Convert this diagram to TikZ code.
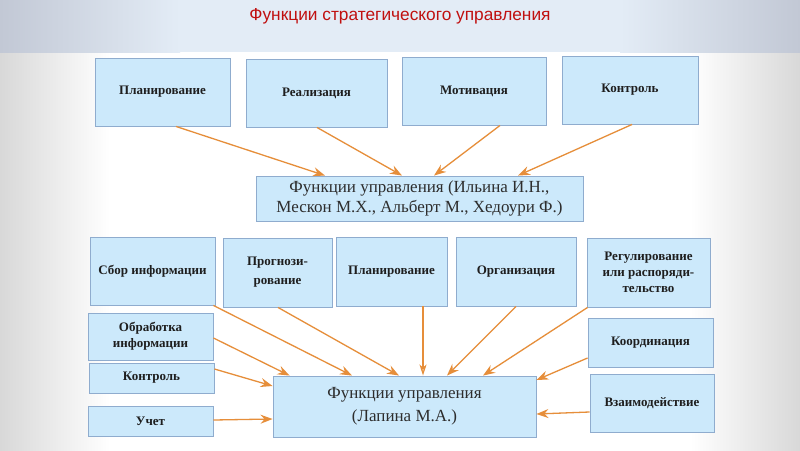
\documentclass[tikz,border=0pt]{standalone}
\usepackage{fontspec}
\setmainfont{Liberation Serif}
\newfontfamily\titlefont{Liberation Sans}
\usetikzlibrary{arrows.meta,calc}
\definecolor{bandc}{RGB}{227,236,246}
\definecolor{bandedge}{RGB}{194,200,213}
\definecolor{lowedge}{RGB}{216,216,216}
\definecolor{boxfill}{RGB}{204,233,251}
\definecolor{boxline}{RGB}{143,172,206}
\definecolor{arr}{RGB}{230,142,58}
\definecolor{titlered}{RGB}{192,16,16}
\definecolor{txt}{RGB}{30,30,30}
\tikzset{
  fbox/.style={draw=boxline, fill=boxfill, line width=0.9pt, inner sep=0pt,
    align=center, text=txt, font=\fontsize{13}{16}\selectfont\bfseries},
  bigbox/.style={fbox, font=\fontsize{17}{20}\selectfont, text={rgb,255:red,45;green,45;blue,45}},
  conn/.style={draw=arr, line width=1.3pt, -{Stealth[length=12pt,width=9pt,inset=4pt]}},
  connopen/.style={draw=arr, line width=1.3pt, -{Stealth[open,length=11pt,width=7pt,inset=3pt]}}
}
\begin{document}
\begin{tikzpicture}[x=1pt,y=-1pt]
\useasboundingbox (0,0) rectangle (800,450);
% background
\fill[white] (0,0) rectangle (800,450);
\shade[left color=lowedge, right color=white] (0,52) rectangle (110,450);
\shade[left color=white, right color=lowedge] (690,52) rectangle (800,450);
\fill[bandc] (0,0) rectangle (800,52);
\shade[left color=bandedge, right color=bandc] (0,0) rectangle (180,52);
\shade[left color=bandc, right color=bandedge] (620,0) rectangle (800,52);
\node[font=\titlefont\fontsize{17.3}{20}\selectfont, text=titlered] (title) at (400,16) {Функции стратегического управления};
% top row
\node[fbox, minimum width=135, minimum height=68] (p1) at (162.5,92) {Планирование};
\node[fbox, minimum width=141, minimum height=68] (p2) at (316.5,93) {Реализация};
\node[fbox, minimum width=144, minimum height=68] (p3) at (474,91) {Мотивация};
\node[fbox, minimum width=136, minimum height=68] (p4) at (630,90) {Контроль};
\node[bigbox, minimum width=327, minimum height=45] (m) at (419.5,198.5) {Функции управления (Ильина И.Н.,\\Мескон М.Х., Альберт М., Хедоури Ф.)};
% second row
\node[fbox, minimum width=125, minimum height=68] (s1) at (152.5,271) {Сбор информации};
\node[fbox, minimum width=109, minimum height=69, font=\fontsize{13}{19}\selectfont\bfseries] (s2) at (277.5,272.5) {Прогнози-\\рование};
\node[fbox, minimum width=111, minimum height=69] (s3) at (391.5,271.5) {Планирование};
\node[fbox, minimum width=120, minimum height=69] (s4) at (516,271.5) {Организация};
\node[fbox, minimum width=123, minimum height=69] (s5) at (648.5,272.5) {Регулирование\\или распоряди-\\тельство};
\node[fbox, minimum width=125, minimum height=47] (o1) at (150.5,336.5) {Обработка\\информации};
\node[fbox, minimum width=125, minimum height=30] (o2) at (151.5,378) {Контроль};
\node[fbox, minimum width=125, minimum height=30] (o3) at (150.5,421) {Учет};
\node[fbox, minimum width=125, minimum height=49] (k1) at (650.5,342.5) {Координация};
\node[fbox, minimum width=124, minimum height=58] (k2) at (652,403) {Взаимодействие};
\node[bigbox, minimum width=263, minimum height=61, font=\fontsize{17}{23}\selectfont] (b) at (404.5,406.5) {Функции управления\\(Лапина М.А.)};
% connectors to middle box
\draw[conn] ($(p1.south)+(13.5,0)$) -- ($(m.north)+(-94.5,0)$);
\draw[conn] ($(p2.south)+(0.5,0)$) -- ($(m.north)+(-17.5,0)$);
\draw[conn] ($(p3.south)+(26,0)$) -- ($(m.north)+(14.5,0)$);
\draw[conn] ($(p4.south)+(2,0)$) -- ($(m.north)+(98.5,0)$);
% connectors to bottom box
\draw[conn] ($(s1.south east)+(-2,0)$) -- ($(b.north)+(-52.5,0)$);
\draw[conn] ($(s2.south)+(0.5,0)$) -- ($(b.north)+(-5.5,0)$);
\draw[connopen] ($(s3.south)+(31.5,0)$) -- ($(b.north)+(18.5,0)$);
\draw[conn] ($(s4.south)+(0,0)$) -- ($(b.north)+(42.5,0)$);
\draw[conn] ($(s5.south west)+(1,0)$) -- ($(b.north)+(78.5,0)$);
\draw[conn] ($(o1.east)+(0,1.5)$) -- ($(b.north west)+(17,0)$);
\draw[conn] ($(o2.east)+(0,-9)$) -- ($(b.west)+(0,-20.5)$);
\draw[conn] ($(o3.east)+(0,-1)$) -- ($(b.west)+(0,12.5)$);
\draw[conn] ($(k1.west)+(0,15.5)$) -- ($(b.east)+(0,-26.5)$);
\draw[conn] ($(k2.west)+(0,9)$) -- ($(b.east)+(0,7.5)$);
\end{tikzpicture}
\end{document}
